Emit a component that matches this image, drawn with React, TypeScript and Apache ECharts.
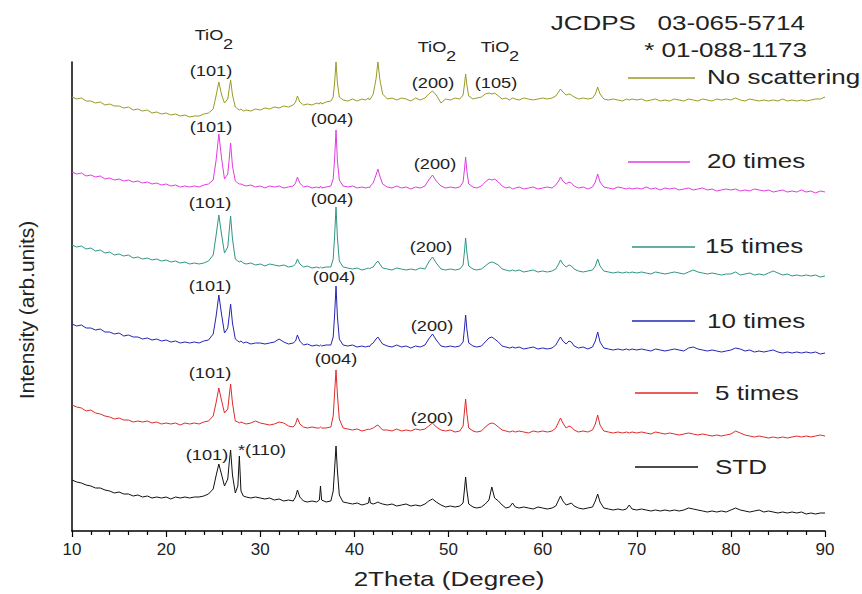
import React, { useEffect, useRef } from 'react';
import * as echarts from 'echarts';

// 2Theta positions (degrees), shared by every pattern
const X = [
  10, 10.5, 11, 11.5, 12, 12.5, 13, 13.5, 14, 14.5, 15, 15.5, 16, 16.5, 17, 17.5, 18, 18.5, 19, 19.5, 20, 20.5, 21, 21.5, 22, 22.5, 23, 23.5, 24, 24.5,
  25.0, 25.3, 25.6, 25.9, 26.2, 26.55, 26.7, 26.85, 27.05, 27.35, 27.62, 27.78, 27.95, 28.2,
  28.5, 29, 29.5, 30, 30.5, 31, 31.5, 32, 32.5, 33, 33.5,
  33.75, 33.95, 34.2,
  34.6, 35, 35.5, 36,
  36.28, 36.4, 36.52,
  37, 37.5, 37.75, 37.9, 38.05, 38.2, 38.4, 38.8,
  39.3, 39.8, 40.3, 40.8, 41.2,
  41.5, 41.6, 41.7,
  42.0, 42.3, 42.5, 42.7, 43.0,
  43.5, 44, 44.5, 45, 45.5, 46, 46.5, 47, 47.5,
  47.9, 48.3, 48.7,
  49.2, 49.7, 50.2, 50.7, 51.2,
  51.55, 51.7, 51.82, 51.95, 52.15,
  52.6, 53, 53.5, 53.9, 54.3, 54.6, 54.9, 55.3, 55.7, 56.1, 56.5, 56.8, 57.1, 57.5, 58, 58.5, 59, 59.5, 60, 60.5, 61, 61.4,
  61.7, 61.9, 62.15, 62.5, 62.8, 63.05, 63.35, 63.8, 64.3, 64.8, 65.3, 65.6, 65.85, 66.1, 66.5, 67, 67.5, 68, 68.5, 68.9, 69.2, 69.5,
  70, 70.5, 71, 71.5, 72, 72.5, 73, 73.5, 74, 74.5, 75, 75.5, 76, 76.5, 77, 77.5, 78, 78.5, 79, 79.5, 80, 80.5, 81, 81.5, 82, 82.5, 83, 83.5, 84, 84.5, 85, 85.5, 86, 86.5, 87, 87.5, 88, 88.5, 89, 89.5, 90,
];

// Intensities (arb. units, stacked offsets included)
const noScattering = [
  434, 432, 433, 430, 430, 428, 429, 426, 427, 425, 425, 423, 424, 421, 422, 420, 421, 418, 419, 417, 418, 416, 417, 415, 416, 414, 415, 415, 417, 418,
  422, 435, 449, 436, 428, 432, 442, 451, 436, 424, 422, 421, 422, 420,
  421, 420, 422, 421, 423, 422, 424, 423, 425, 424, 426,
  429, 435, 429,
  426, 427, 426, 428,
  427, 429, 427,
  429, 430, 434, 448, 469, 448, 434, 431,
  430, 432, 430, 432, 431,
  433, 431, 432,
  437, 452, 469, 452, 437,
  432, 433, 431, 433, 432, 430, 433, 431, 433,
  437, 440, 436,
  428, 432, 431, 433, 432,
  436, 447, 457, 446, 435,
  432, 433, 434, 437, 438, 437, 438, 435, 432, 433, 431, 433, 432, 431, 433, 432, 431, 432, 433, 432, 433, 435,
  439, 442, 439, 436, 437, 436, 434, 432, 433, 432, 433, 437, 444, 437, 432, 431, 432, 431, 430, 432, 431, 432,
  431, 432, 430, 431, 432, 430, 431, 430, 432, 431, 430, 432, 431, 430, 432, 431, 430, 432, 431, 432, 431, 433, 431, 430, 432, 431, 430, 431, 430, 431, 430, 432, 430, 431, 430, 431, 430, 431, 432, 432, 434,
];

const times20 = [
  359, 357, 358, 355, 356, 354, 355, 352, 353, 351, 352, 350, 351, 349, 350, 348, 349, 347, 348, 346, 347, 345, 346, 344, 345, 344, 345, 344, 346, 347,
  351, 370, 397, 372, 352, 357, 372, 388, 365, 350, 348, 347, 347, 346,
  345, 346, 344, 345, 343, 345, 344, 345, 343, 344, 345,
  348, 354, 348,
  344, 345, 343, 344,
  343, 345, 343,
  344, 345, 352, 372, 401, 370, 351, 345,
  344, 345, 343, 344, 343,
  344, 343, 345,
  348, 356, 362, 355, 347,
  344, 343, 345, 343, 344, 342, 344, 343, 345,
  351, 356, 350,
  345, 343, 344, 343, 344,
  349, 362, 374, 360, 347,
  344, 343, 345, 349, 352, 351, 352, 349, 345, 343, 344, 342, 343, 344, 342, 343, 344, 342, 343, 344, 343, 346,
  350, 354, 350, 347, 349, 348, 345, 343, 344, 342, 344, 349, 357, 349, 344, 343, 342, 344, 343, 342, 343, 342,
  343, 342, 344, 342, 343, 341, 343, 342, 343, 341, 342, 343, 341, 342, 343, 341, 342, 340, 341, 342, 341, 342, 340, 341, 340, 342, 341, 340, 341, 339, 340, 341, 339, 340, 339, 341, 339, 340, 338, 340, 339,
];

const times15 = [
  286, 284, 285, 282, 283, 280, 281, 278, 279, 276, 277, 275, 276, 273, 274, 272, 273, 271, 272, 270, 271, 269, 270, 268, 269, 267, 268, 267, 268, 270,
  276, 295, 316, 296, 278, 284, 300, 315, 292, 272, 270, 269, 270, 268,
  267, 268, 266, 267, 265, 267, 266, 265, 266, 264, 265,
  267, 272, 267,
  264, 265, 263, 264,
  263, 264, 263,
  264, 264, 272, 295, 324, 293, 270, 264,
  263, 262, 263, 261, 262,
  263, 262, 263,
  264, 268, 270, 267, 263,
  262, 261, 263, 262, 261, 262, 261, 263, 262,
  269, 274, 268,
  262, 261, 262, 261, 262,
  266, 280, 293, 279, 265,
  262, 261, 262, 265, 268, 269, 268, 266, 262, 261, 260, 261, 260, 261, 259, 260, 261, 259, 260, 259, 260, 262,
  267, 271, 267, 264, 266, 265, 262, 260, 259, 260, 261, 265, 272, 265, 260, 259, 258, 259, 258, 259, 258, 259,
  258, 259, 258, 257, 259, 258, 257, 258, 259, 258, 257, 259, 261, 259, 258, 257, 258, 257, 256, 257, 257, 259, 256, 257, 258, 256, 257, 256, 258, 260, 258, 256, 257, 255, 256, 255, 256, 255, 256, 254, 255,
];

const times10 = [
  207, 205, 206, 203, 203, 201, 202, 199, 199, 197, 198, 195, 196, 194, 194, 192, 193, 191, 192, 190, 191, 189, 190, 188, 189, 188, 189, 188, 190, 191,
  197, 214, 236, 216, 198, 203, 215, 227, 208, 192, 190, 189, 190, 188,
  189, 187, 188, 188, 187, 188, 189, 192, 189, 187, 188,
  190, 196, 190,
  186, 187, 185, 186,
  185, 186, 185,
  186, 186, 194, 216, 245, 214, 192, 186,
  185, 186, 184, 185, 184,
  185, 184, 186,
  188, 192, 194, 191, 187,
  185, 184, 186, 184, 185, 183, 185, 184, 186,
  192, 197, 191,
  185, 184, 185, 184, 185,
  189, 203, 216, 202, 188,
  185, 184, 185, 189, 193, 194, 192, 189, 185, 184, 183, 184, 183, 184, 182, 183, 184, 182, 183, 182, 183, 186,
  191, 194, 190, 187, 190, 189, 185, 183, 184, 182, 184, 190, 199, 189, 183, 182, 181, 182, 181, 182, 181, 182,
  181, 182, 181, 180, 182, 181, 180, 181, 182, 181, 180, 183, 184, 182, 181, 180, 181, 180, 179, 180, 181, 183, 182, 180, 181, 179, 180, 179, 180, 181, 179, 178, 179, 178, 179, 178, 179, 178, 179, 177, 178,
];

const times5 = [
  126, 124, 123, 120, 121, 118, 117, 115, 114, 112, 113, 111, 111, 109, 110, 109, 110, 108, 109, 107, 108, 107, 108, 106, 108, 107, 108, 107, 109, 110,
  115, 128, 143, 130, 118, 122, 135, 147, 128, 110, 109, 108, 109, 108,
  107, 108, 110, 108, 107, 106, 107, 109, 108, 105, 104,
  107, 113, 107,
  104, 103, 104, 103,
  103, 104, 103,
  103, 104, 115, 138, 161, 136, 112, 103,
  102, 101, 102, 100, 101,
  102, 101, 102,
  103, 105, 106, 104, 101,
  101, 100, 102, 100, 101, 100, 102, 101, 102,
  105, 108, 104,
  101, 100, 101, 99, 100,
  105, 120, 132, 118, 103,
  100, 99, 100, 104, 107, 108, 107, 104, 101, 100, 99, 100, 99, 100, 99, 98, 100, 99, 100, 99, 100, 103,
  109, 113, 108, 103, 105, 104, 101, 99, 100, 99, 101, 107, 116, 106, 100, 99, 98, 99, 98, 99, 98, 99,
  98, 99, 98, 97, 99, 98, 97, 98, 97, 96, 97, 98, 97, 96, 97, 96, 95, 96, 95, 96, 97, 100, 98, 96, 95, 94, 95, 94, 93, 94, 93, 94, 93, 94, 95, 94, 95, 94, 95, 96, 95,
];

const std = [
  51, 49, 48, 46, 45, 43, 43, 41, 40, 38, 39, 37, 37, 35, 36, 34, 35, 33, 34, 33, 34, 32, 34, 33, 34, 33, 34, 34, 35, 37,
  42, 55, 67, 56, 45, 52, 68, 81, 56, 38, 45, 75, 40, 35,
  34, 33, 34, 33, 32, 33, 31, 32, 30, 31, 30,
  34, 41, 34,
  30, 29, 30, 29,
  31, 45, 31,
  29, 30, 40, 62, 85, 60, 36, 29,
  28, 27, 28, 26, 27,
  28, 34, 28,
  27, 28, 29, 28, 27,
  26, 27, 25, 26, 27, 25, 26, 25, 27,
  30, 32, 29,
  26, 24, 25, 24, 25,
  28, 42, 54, 41, 27,
  24, 23, 24, 27, 31, 44, 33, 30, 26, 23, 24, 28, 24, 23, 24, 23, 22, 24, 23, 22, 23, 25,
  31, 35, 30, 26, 27, 28, 25, 23, 22, 23, 24, 30, 37, 29, 23, 22, 21, 22, 21, 22, 26, 22,
  21, 22, 21, 20, 21, 20, 21, 20, 21, 20, 21, 23, 22, 21, 20, 19, 20, 19, 20, 19, 21, 23, 21, 20, 19, 20, 21, 19, 20, 19, 18, 19, 18, 19, 18, 19, 17, 18, 17, 18, 18,
];

const SERIES_NAMES = ['No scattering', '20 times', '15 times', '10 times', '5 times', 'STD'];
const SERIES_VALUES = [noScattering, times20, times15, times10, times5, std];
const SERIES_COLORS = ['#9a9a26', '#e03ce0', '#2f9585', '#2424b4', '#e02a2a', '#111111'];

const X_MIN = 10;
const X_MAX = 90;
const X_STEP = 10;

const FONT = '"Liberation Sans", Arial, Helvetica, sans-serif';

function App() {
  const ref = useRef<HTMLDivElement>(null);

  useEffect(() => {
    document.body.style.margin = '0';
    if (!ref.current) return;
    const chart = echarts.init(ref.current, null, { renderer: 'svg' });

    const SX = 1.3;
    const txt = (text: string, x: number, y: number, size: number, align = 'center', extra: any = {}) => ({
      type: 'text',
      x,
      y,
      scaleX: SX,
      silent: true,
      ...extra,
      style: {
        text,
        fontSize: size,
        fontFamily: FONT,
        fill: '#222',
        textAlign: align,
        align,
        textVerticalAlign: 'middle',
        verticalAlign: 'middle',
      },
    });

    // legend entries: [lineX1, lineX2, lineY, textX, textY]
    const legendPos = [
      [628, 695, 78, 707, 77],
      [628, 690, 162, 707, 161],
      [632, 695, 247, 705, 246],
      [632, 695, 321, 707, 321],
      [635, 698, 393, 715, 393],
      [635, 698, 467, 715, 467],
    ];

    const legendEls: any[] = [];
    SERIES_NAMES.forEach((name, i) => {
      const p = legendPos[i];
      legendEls.push({
        type: 'line',
        silent: true,
        shape: { x1: p[0], y1: p[2], x2: p[1], y2: p[2] },
        style: { stroke: SERIES_COLORS[i], lineWidth: 1.5 },
      });
      legendEls.push(txt(name, p[3], p[4], 20, 'left'));
    });

    const tio2 = (cx: number, cy: number) => [
      txt('TiO', cx - 4, cy, 14),
      txt('2', cx + 15, cy + 9, 14),
    ];

    const peakLabels = [
      ['(101)', 211, 71], ['(200)', 433, 83], ['(105)', 496, 83],
      ['(101)', 211, 127], ['(004)', 332, 119], ['(200)', 435, 164],
      ['(101)', 210, 203], ['(004)', 332, 199], ['(200)', 431, 247],
      ['(101)', 210, 286], ['(004)', 334, 277], ['(200)', 432, 326],
      ['(101)', 210, 373], ['(004)', 336, 359], ['(200)', 432, 418],
      ['(101)', 207, 455], ['*(110)', 262, 450],
    ];

    const option: any = {
      animation: false,
      backgroundColor: '#ffffff',
      grid: { left: 72, right: 37, top: 62, bottom: 63, containLabel: false },
      xAxis: {
        type: 'value',
        min: X_MIN,
        max: X_MAX,
        interval: X_STEP,
        axisLine: { show: true, onZero: false, lineStyle: { color: '#000', width: 1.5 } },
        axisTick: { show: true, inside: false, length: 6, lineStyle: { color: '#000', width: 1.2 } },
        minorTick: { show: true, splitNumber: 5, length: 4, lineStyle: { color: '#000', width: 1.2 } },
        axisLabel: { fontSize: 17, color: '#222', fontFamily: FONT, margin: 10 },
        splitLine: { show: false },
        minorSplitLine: { show: false },
      },
      yAxis: {
        type: 'value',
        min: 0,
        max: 469,
        axisLine: { show: true, onZero: false, lineStyle: { color: '#000', width: 1.5 } },
        axisTick: { show: false },
        axisLabel: { show: false },
        splitLine: { show: false },
      },
      series: SERIES_NAMES.map((name, i) => ({
        name,
        type: 'line',
        showSymbol: false,
        symbol: 'none',
        silent: true,
        lineStyle: { width: 1, color: SERIES_COLORS[i] },
        itemStyle: { color: SERIES_COLORS[i] },
        data: X.map((x, k) => [x, SERIES_VALUES[i][k]]),
      })),
      graphic: {
        elements: [
          ...legendEls,
          txt('JCDPS   03-065-5714', 805, 23, 20, 'right'),
          txt('* 01-088-1173', 807, 50, 20, 'right'),
          ...tio2(213, 35),
          ...tio2(436, 47),
          ...tio2(499, 47),
          ...peakLabels.map((p) => txt(p[0] as string, p[1] as number, p[2] as number, 14)),
          txt('2Theta (Degree)', 449, 579, 20),
          {
            type: 'text',
            x: 26,
            y: 310,
            rotation: Math.PI / 2,
            silent: true,
            style: {
              text: 'Intensity (arb.units)',
              fontSize: 21,
              fontFamily: FONT,
              fill: '#222',
              textAlign: 'center',
              align: 'center',
              textVerticalAlign: 'middle',
              verticalAlign: 'middle',
            },
          },
        ],
      },
    };

    chart.setOption(option);
    return () => chart.dispose();
  }, []);

  return <div ref={ref} style={{ width: 862, height: 594 }} />;
}

export default App;
